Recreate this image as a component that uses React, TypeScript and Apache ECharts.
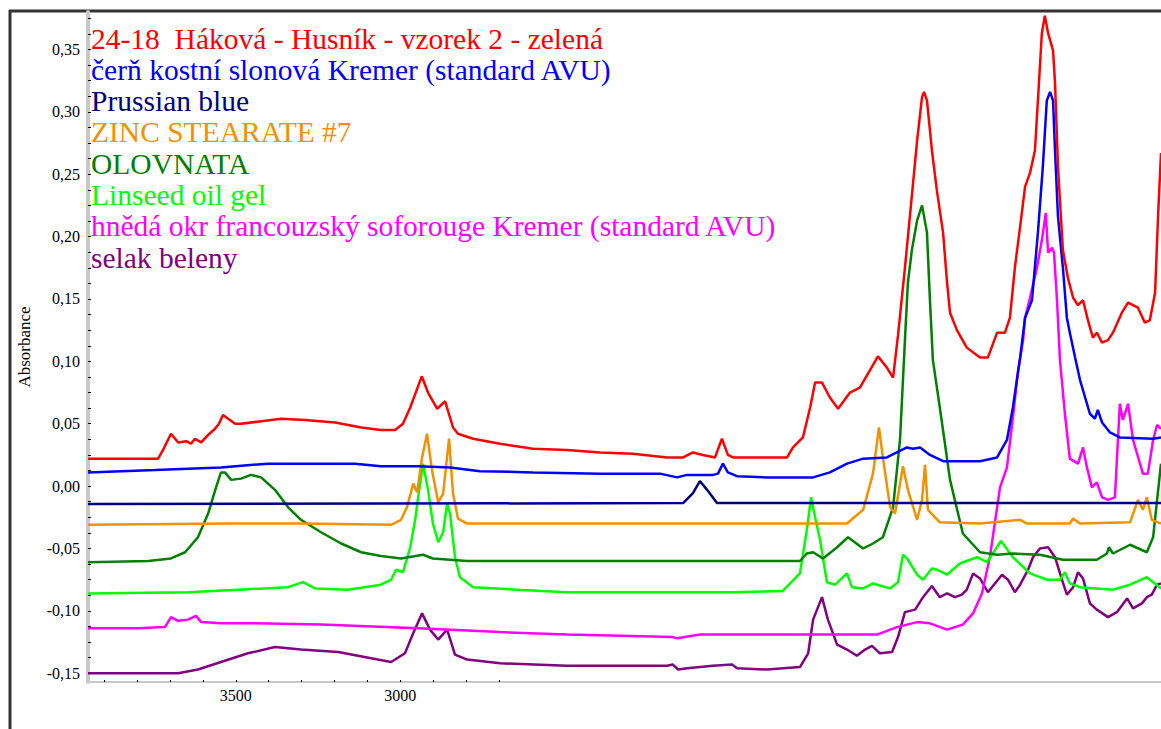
import React, { useEffect, useRef } from "react";
import * as echarts from "echarts";

const seriesNames = [
  "24-18\u00a0 Háková - Husník - vzorek 2 - zelená",
  "čerň kostní slonová Kremer (standard AVU)",
  "Prussian blue",
  "ZINC STEARATE #7",
  "OLOVNATA",
  "Linseed oil gel",
  "hnědá okr francouzský soforouge Kremer (standard AVU)",
  "selak beleny",
];
const seriesColors = ["#ff0000", "#0000ff", "#000080", "#f39000", "#008000", "#00ff00", "#ff00ff", "#800080"];

const yLabelValues = [-0.15, -0.1, -0.05, 0, 0.05, 0.1, 0.15, 0.2, 0.25, 0.3, 0.35];
const yTickValues = Array.from({ length: 43 }, (_, i) => Math.round((-0.15 + i * 0.0125) * 10000) / 10000);
const xLabelValues = [3500, 3000];
const xTickValues = [3900, 3800, 3700, 3600, 3500, 3400, 3300, 3200, 3100, 3000, 2900, 2800, 2700];

const sample2418: [number, number][] = [
  [3949, 0.022], [3851, 0.022], [3736, 0.022], [3721, 0.029], [3697, 0.042], [3675, 0.035], [3651, 0.036],
  [3636, 0.034], [3624, 0.038], [3605, 0.035], [3584, 0.041], [3563, 0.046], [3551, 0.05], [3539, 0.057],
  [3523, 0.054], [3502, 0.05], [3484, 0.05], [3423, 0.052], [3362, 0.054], [3290, 0.053], [3198, 0.051],
  [3119, 0.047], [3059, 0.045], [3016, 0.045], [2992, 0.05], [2970, 0.063], [2935, 0.088], [2916, 0.075],
  [2888, 0.062], [2864, 0.068], [2840, 0.047], [2825, 0.042], [2779, 0.038], [2697, 0.034], [2597, 0.03],
  [2494, 0.029], [2393, 0.027], [2293, 0.026], [2190, 0.023], [2141, 0.023], [2111, 0.027], [2081, 0.025],
  [2044, 0.023], [2023, 0.038], [2005, 0.025], [1989, 0.023], [1825, 0.023], [1807, 0.031], [1777, 0.039],
  [1755, 0.063], [1740, 0.083], [1719, 0.083], [1695, 0.071], [1670, 0.062], [1634, 0.075], [1604, 0.079],
  [1573, 0.093], [1549, 0.104], [1522, 0.095], [1503, 0.087], [1488, 0.121], [1467, 0.175], [1452, 0.216],
  [1430, 0.277], [1415, 0.312], [1409, 0.316], [1400, 0.309], [1385, 0.269], [1370, 0.237], [1351, 0.203],
  [1339, 0.163], [1330, 0.139], [1309, 0.125], [1279, 0.111], [1239, 0.103], [1215, 0.103], [1187, 0.123],
  [1163, 0.123], [1148, 0.135], [1133, 0.175], [1117, 0.208], [1102, 0.24], [1087, 0.251], [1072, 0.269],
  [1063, 0.309], [1051, 0.363], [1042, 0.377], [1032, 0.363], [1017, 0.349], [1011, 0.323], [1002, 0.256],
  [987, 0.189], [972, 0.167], [956, 0.151], [941, 0.145], [926, 0.149], [911, 0.133], [896, 0.119],
  [884, 0.123], [868, 0.115], [850, 0.117], [835, 0.123], [808, 0.139], [789, 0.147], [759, 0.143],
  [738, 0.131], [723, 0.133], [707, 0.155], [698, 0.216], [689, 0.267],
];

const ivoryBlack: [number, number][] = [
  [3949, 0.011], [3745, 0.013], [3645, 0.014], [3545, 0.015], [3402, 0.018], [3138, 0.018], [3059, 0.016],
  [2946, 0.016], [2849, 0.015], [2758, 0.012], [2597, 0.011], [2393, 0.01], [2211, 0.01], [2159, 0.007],
  [2129, 0.009], [2050, 0.009], [2035, 0.01], [2020, 0.018], [2005, 0.011], [1977, 0.008], [1886, 0.007],
  [1746, 0.007], [1695, 0.011], [1643, 0.018], [1594, 0.022], [1522, 0.023], [1461, 0.031], [1443, 0.03],
  [1421, 0.031], [1391, 0.025], [1351, 0.02], [1239, 0.02], [1187, 0.023], [1157, 0.037], [1139, 0.063],
  [1117, 0.103], [1102, 0.135], [1081, 0.149], [1063, 0.203], [1048, 0.256], [1036, 0.309], [1026, 0.316],
  [1017, 0.309], [1011, 0.269], [1002, 0.216], [987, 0.175], [975, 0.135], [966, 0.123], [950, 0.103],
  [935, 0.085], [905, 0.058], [890, 0.054], [881, 0.061], [868, 0.051], [844, 0.043], [814, 0.039],
  [713, 0.038], [689, 0.039],
];

const prussianBlue: [number, number][] = [
  [3949, -0.0144], [2141, -0.0136], [2111, -0.0056], [2090, 0.004], [2068, -0.003], [2038, -0.0136], [689, -0.0136],
];

const zincStearate: [number, number][] = [
  [3949, -0.031], [3517, -0.03], [3457, -0.03], [3305, -0.03], [3028, -0.031], [2998, -0.027], [2980, -0.017],
  [2961, 0.002], [2949, -0.005], [2934, 0.023], [2919, 0.042], [2904, 0.013], [2885, -0.013], [2870, -0.006],
  [2852, 0.038], [2840, -0.006], [2825, -0.026], [2797, -0.03], [2697, -0.03], [1734, -0.03], [1643, -0.03],
  [1594, -0.019], [1564, 0.01], [1546, 0.047], [1534, 0.023], [1512, -0.017], [1497, -0.022], [1473, 0.016],
  [1458, -0.003], [1430, -0.027], [1415, -0.011], [1406, 0.017], [1397, -0.019], [1361, -0.029], [1239, -0.03],
  [1117, -0.027], [1096, -0.03], [966, -0.03], [956, -0.026], [935, -0.03], [783, -0.029], [759, -0.011],
  [744, -0.019], [732, -0.009], [717, -0.027], [689, -0.03],
];

const olovnata: [number, number][] = [
  [3949, -0.061], [3766, -0.06], [3697, -0.058], [3654, -0.053], [3615, -0.041], [3584, -0.022], [3560, -0.001],
  [3545, 0.011], [3533, 0.011], [3514, 0.005], [3484, 0.006], [3454, 0.009], [3423, 0.007], [3381, -0.003],
  [3341, -0.017], [3302, -0.027], [3241, -0.037], [3180, -0.046], [3119, -0.053], [3059, -0.056], [2998, -0.058],
  [2931, -0.055], [2901, -0.058], [2797, -0.06], [1786, -0.06], [1765, -0.054], [1746, -0.053], [1716, -0.058],
  [1673, -0.049], [1640, -0.041], [1594, -0.05], [1564, -0.046], [1534, -0.041], [1503, -0.017], [1482, 0.037],
  [1467, 0.117], [1458, 0.163], [1446, 0.189], [1430, 0.213], [1415, 0.225], [1400, 0.203], [1391, 0.149],
  [1382, 0.101], [1361, 0.063], [1330, 0.005], [1291, -0.038], [1239, -0.053], [1187, -0.055], [1139, -0.054],
  [1057, -0.055], [987, -0.059], [884, -0.059], [853, -0.054], [847, -0.049], [835, -0.054], [783, -0.047],
  [732, -0.053], [713, -0.041], [689, 0.018],
];

const linseedOilGel: [number, number][] = [
  [3949, -0.086], [3645, -0.085], [3493, -0.083], [3341, -0.081], [3296, -0.077], [3259, -0.082], [3159, -0.083],
  [3059, -0.079], [3028, -0.075], [3013, -0.067], [2992, -0.069], [2970, -0.049], [2955, -0.027], [2946, -0.009],
  [2931, 0.018], [2916, -0.003], [2901, -0.03], [2885, -0.045], [2870, -0.037], [2858, -0.014], [2849, -0.022],
  [2834, -0.057], [2819, -0.073], [2779, -0.081], [2646, -0.083], [2494, -0.085], [1989, -0.085], [1838, -0.084],
  [1786, -0.07], [1765, -0.035], [1752, -0.009], [1740, -0.025], [1725, -0.043], [1704, -0.077], [1679, -0.079],
  [1643, -0.07], [1628, -0.081], [1594, -0.082], [1564, -0.078], [1512, -0.082], [1488, -0.077], [1473, -0.055],
  [1458, -0.059], [1430, -0.071], [1412, -0.075], [1385, -0.066], [1370, -0.067], [1339, -0.071], [1300, -0.062],
  [1248, -0.057], [1218, -0.061], [1175, -0.044], [1139, -0.057], [1087, -0.07], [1036, -0.075], [996, -0.075],
  [981, -0.069], [966, -0.078], [935, -0.081], [835, -0.083], [783, -0.079], [732, -0.073], [689, -0.082],
];

const frenchOchre: [number, number][] = [
  [3949, -0.114], [3797, -0.114], [3715, -0.113], [3697, -0.105], [3675, -0.108], [3645, -0.107], [3621, -0.104],
  [3605, -0.109], [3545, -0.11], [3441, -0.11], [3241, -0.111], [2946, -0.114], [2697, -0.117], [2494, -0.119],
  [2172, -0.121], [2159, -0.122], [2090, -0.119], [1734, -0.119], [1552, -0.119], [1491, -0.113], [1430, -0.109],
  [1391, -0.11], [1339, -0.115], [1291, -0.111], [1260, -0.102], [1233, -0.086], [1209, -0.057], [1178, -0.001],
  [1157, 0.015], [1139, 0.055], [1124, 0.091], [1108, 0.117], [1102, 0.135], [1087, 0.151], [1066, 0.175],
  [1051, 0.197], [1039, 0.219], [1032, 0.187], [1020, 0.191], [1014, 0.187], [1005, 0.149], [996, 0.101],
  [981, 0.058], [966, 0.022], [941, 0.018], [926, 0.031], [914, 0.015], [899, -0.001], [884, 0.003],
  [868, -0.009], [850, -0.011], [829, -0.009], [814, 0.066], [805, 0.053], [789, 0.066], [774, 0.037],
  [744, 0.01], [729, 0.01], [713, 0.037], [701, 0.049], [689, 0.046],
];

const shellacBleached: [number, number][] = [
  [3949, -0.15], [3675, -0.15], [3615, -0.147], [3545, -0.141], [3463, -0.134], [3381, -0.129], [3302, -0.131],
  [3189, -0.133], [3089, -0.138], [3028, -0.141], [2986, -0.134], [2961, -0.118], [2934, -0.102], [2910, -0.115],
  [2885, -0.123], [2858, -0.115], [2834, -0.135], [2797, -0.139], [2697, -0.142], [2494, -0.144], [2190, -0.144],
  [2172, -0.143], [2156, -0.147], [2129, -0.146], [2050, -0.144], [1992, -0.143], [1977, -0.146], [1886, -0.147],
  [1786, -0.145], [1761, -0.134], [1746, -0.107], [1719, -0.089], [1701, -0.107], [1673, -0.127], [1643, -0.131],
  [1613, -0.136], [1588, -0.131], [1567, -0.128], [1543, -0.134], [1506, -0.133], [1488, -0.121], [1467, -0.101],
  [1436, -0.099], [1412, -0.089], [1385, -0.08], [1361, -0.089], [1339, -0.086], [1315, -0.089], [1294, -0.087],
  [1279, -0.083], [1260, -0.07], [1239, -0.074], [1215, -0.085], [1172, -0.071], [1154, -0.075], [1133, -0.085],
  [1117, -0.079], [1093, -0.067], [1078, -0.057], [1057, -0.05], [1032, -0.049], [1011, -0.057], [990, -0.075],
  [975, -0.087], [956, -0.081], [941, -0.069], [926, -0.074], [905, -0.094], [884, -0.099], [850, -0.105],
  [823, -0.101], [792, -0.09], [774, -0.098], [747, -0.094], [732, -0.089], [717, -0.087], [701, -0.079],
  [689, -0.078],
];

const seriesData = [sample2418, ivoryBlack, prussianBlue, zincStearate, olovnata, linseedOilGel, frenchOchre, shellacBleached];

const FONT = "Liberation Serif";

export default function App() {
  const ref = useRef<HTMLDivElement>(null);
  useEffect(() => {
    if (!ref.current) return;
    const chart = echarts.init(ref.current, undefined, { renderer: "svg" });
    const legendTexts = seriesNames.map((n, i) => ({
      type: "text",
      silent: true,
      x: 91,
      y: 38.5 + i * 31.3,
      z: 100,
      style: {
        text: n,
        fill: seriesColors[i],
        fontSize: 29.5,
        fontFamily: FONT,
        textAlign: "left",
        textVerticalAlign: "middle",
        verticalAlign: "middle",
      },
    }));
    chart.setOption({
      animation: false,
      backgroundColor: "#ffffff",
      textStyle: { fontFamily: FONT },
      grid: { left: 88, right: 0, top: 12, bottom: 47, containLabel: false },
      xAxis: {
        type: "value",
        inverse: true,
        min: 689,
        max: 3949,
        axisLine: { show: true, onZero: false, lineStyle: { color: "#c8c8c8", width: 2 } },
        axisTick: { show: true, inside: true, length: 2, customValues: xTickValues, lineStyle: { color: "#000", width: 1 } },
        axisLabel: {
          show: true,
          customValues: xLabelValues,
          color: "#000",
          fontSize: 16,
          fontFamily: FONT,
          margin: 5,
          formatter: (v: number) => String(Math.round(v)),
        },
        splitLine: { show: false },
      },
      yAxis: {
        type: "value",
        min: -0.157,
        max: 0.38,
        name: "Absorbance",
        nameLocation: "middle",
        nameGap: 55,
        nameTextStyle: { color: "#000", fontSize: 17, fontFamily: FONT },
        axisLine: { show: true, onZero: false, lineStyle: { color: "#c8c8c8", width: 4 } },
        axisTick: { show: true, inside: true, length: 3, customValues: yTickValues, lineStyle: { color: "#000", width: 1 } },
        axisLabel: {
          show: true,
          customValues: yLabelValues,
          color: "#000",
          fontSize: 16,
          fontFamily: FONT,
          margin: 8,
          formatter: (v: number) => v.toFixed(2).replace(".", ","),
        },
        splitLine: { show: false },
      },
      series: seriesNames.map((n, i) => ({
        name: n,
        type: "line",
        data: seriesData[i],
        showSymbol: false,
        symbol: "none",
        lineStyle: { color: seriesColors[i], width: 2.5 },
        itemStyle: { color: seriesColors[i] },
        z: 10 - i,
      })),
      graphic: [
        { type: "line", silent: true, shape: { x1: 10, y1: 10, x2: 10, y2: 729 }, style: { stroke: "#333", lineWidth: 3 } },
        { type: "line", silent: true, shape: { x1: 9, y1: 11, x2: 1161, y2: 11 }, style: { stroke: "#333", lineWidth: 3 } },
        ...legendTexts,
      ],
    });
    return () => chart.dispose();
  }, []);
  return (
    <div
      ref={ref}
      style={{ position: "fixed", left: 0, top: 0, width: 1161, height: 729, background: "#fff" }}
    />
  );
}
